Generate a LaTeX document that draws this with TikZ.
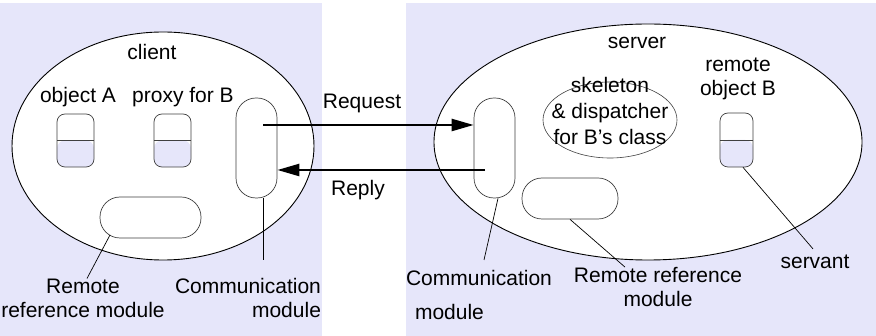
\documentclass[tikz,border=0pt]{standalone}
\usepackage{fontspec}
\setmainfont{Liberation Sans}
\usetikzlibrary{arrows.meta,shapes.geometric}
\definecolor{lav}{RGB}{230,230,250}

\begin{document}
\begin{tikzpicture}[
    x=1pt, y=-1pt,
    font=\fontsize{21}{24}\selectfont,
    % ---- styles -------------------------------------------------
    region/.style={fill=lav, draw=none},
    host/.style={ellipse, draw=black, line width=0.9pt, fill=white,
        inner sep=0pt},
    obj/.style={rounded corners=8pt, draw=black!75, line width=0.7pt,
        fill=white, minimum width=37pt, minimum height=53pt, inner sep=0pt,
        path picture={
            \fill[lav] (path picture bounding box.west) rectangle
                (path picture bounding box.south east);
            \draw[line width=0.8pt] (path picture bounding box.west) --
                (path picture bounding box.east);}},
    module/.style={rounded corners=20pt, draw=black!75, line width=0.7pt,
        fill=white, inner sep=0pt},
    commmod/.style={module, minimum width=41pt, minimum height=100pt},
    refmod/.style={module, minimum height=41pt},
    skel/.style={ellipse, draw=black!75, line width=0.6pt, inner sep=0pt,
        minimum width=134pt, minimum height=76pt},
    msg/.style={-{Triangle[length=22pt,width=12pt]}, line width=2.4pt},
    callout/.style={draw=black, line width=0.7pt},
    lbl/.style={inner sep=0pt, align=center},
]
\useasboundingbox (0,0) rectangle (876,336);

% =================== CLIENT ===================================
\fill[region] (0,3) rectangle (322,336);
\node[host, minimum width=302pt, minimum height=228pt] (client) at (163,146) {};
\node[lbl] (clientlbl) at (152,52) {client};

\node[lbl] (objAlbl)   at (78,97)  {object A};
\node[lbl] (proxylbl)  at (183,97) {proxy for B};
\node[obj] (objA)   at (75.5,140.5)  {};
\node[obj] (proxyB) at (172.5,140.5) {};

\node[commmod] (ccomm) at (256.5,148) {};
\node[refmod, minimum width=101pt] (crrm) at (150.5,217.5) {};

\node[lbl] (crrmlbl)  at (83,298) {Remote\\reference module};
\node[lbl, align=right] (ccommlbl) at (248,298) {Communication\\module};

\coordinate (crrmtip) at (110,235);
\coordinate (ccommend) at (263,260);
\draw[callout] (crrmtip) -- ([xshift=4pt]crrmlbl.north);
\draw[callout] ([xshift=6.5pt]ccomm.south) -- (ccommend);

% =================== SERVER ===================================
\fill[region] (406,3) rectangle (876,336);
\node[host, minimum width=428pt, minimum height=236pt] (server) at (648,142) {};
\node[lbl] (serverlbl) at (637,43) {server};

\node[skel] (skel) at (610,120) {};
\node[lbl, font=\fontsize{21}{26}\selectfont] (skellbl) at ([yshift=9pt]skel.center)
    {skeleton\\\& dispatcher\\for B’s class};

\node[lbl] (objBlbl) at (738,79) {remote\\object B};
\node[obj, minimum width=33pt, minimum height=54pt] (objB) at (736.5,140) {};

\node[commmod] (scomm) at (494.5,148) {};
\node[refmod, minimum width=96pt] (srrm) at (570,198.5) {};

\node[lbl, align=left] (scommlbl) at (479,295)
    {Communication\\[10pt]\hspace*{9pt}module};
\node[lbl] (srrmlbl) at (658,287) {Remote reference\\module};
\node[lbl] (servant) at (815,262) {servant};

\coordinate (scommend) at (484,260);
\draw[callout] ([xshift=3.5pt]scomm.south) -- (scommend);
\draw[callout] (srrm.south) -- ([xshift=-33pt]srrmlbl.north);
\draw[callout] ([xshift=6.5pt]objB.south) -- ([xshift=-2pt,yshift=6pt]servant.north);

% =================== MESSAGES =================================
\coordinate (reqstart) at (263,125);
\coordinate (repstart) at (485,170);
\draw[msg] (reqstart) -- (reqstart -| scomm.west);
\draw[msg] (repstart) -- (repstart -| ccomm.east);
\node[lbl] (reqlbl) at (362,103) {Request};
\node[lbl] (replbl) at (358,190) {Reply};

\end{tikzpicture}
\end{document}
